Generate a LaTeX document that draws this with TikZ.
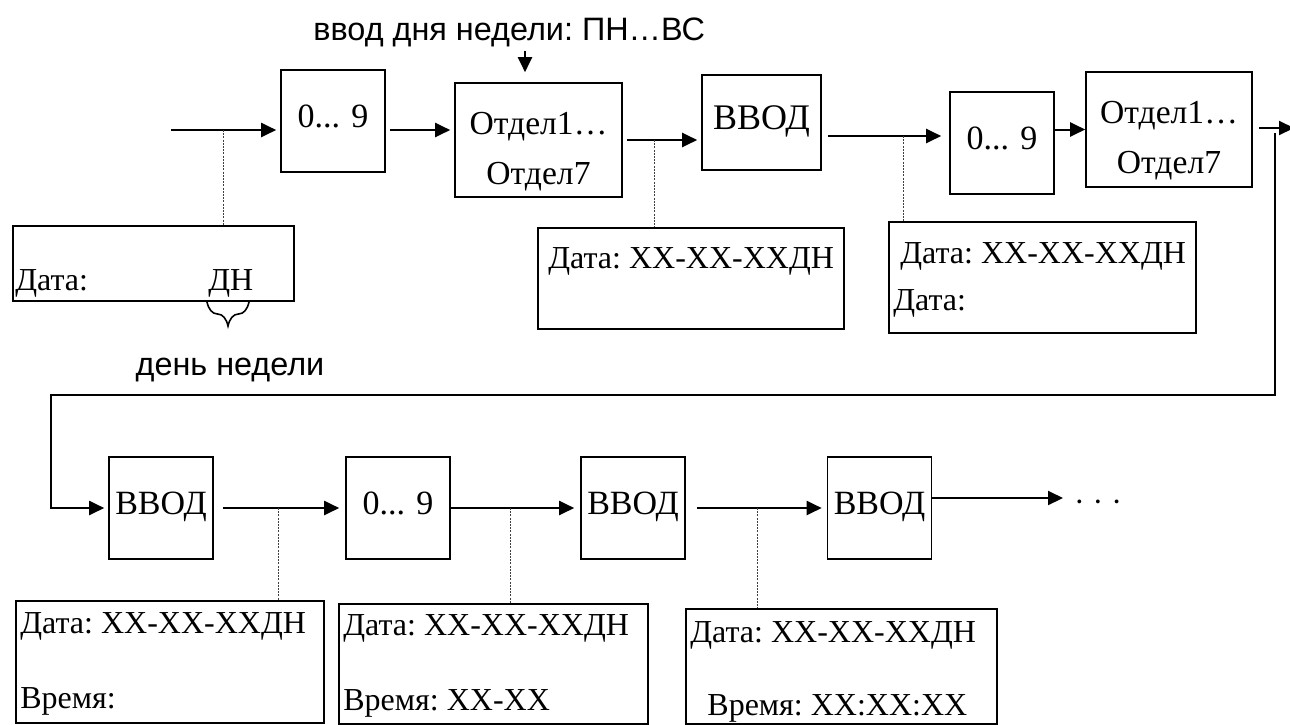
\documentclass[tikz,border=0pt]{standalone}
\usepackage{fontspec}
\setmainfont{Liberation Serif}
\setsansfont{Liberation Sans}
\usepackage{tikz}
\usetikzlibrary{arrows.meta}
\usetikzlibrary{decorations.pathreplacing}
\usetikzlibrary{positioning}

\tikzset{
  keybox/.style={draw,line width=0.8pt,inner sep=0pt,minimum width=52pt,minimum height=51pt,
    text depth=4.5pt,font=\fontsize{17}{20}\selectfont},
  otdbox/.style={draw,line width=0.8pt,inner sep=0pt,minimum width=83.5pt,minimum height=57pt},
  otdtxt/.style={inner sep=0pt,align=center,font=\fontsize{16.8}{20}\selectfont},
  lcdbox/.style={draw,line width=1.2pt,inner sep=0pt,anchor=north west},
  lcdtxt/.style={anchor=base west,inner sep=0pt,font=\fontsize{16}{19}\selectfont},
  sanstxt/.style={inner sep=0pt,font=\sffamily\fontsize{16.2}{19}\selectfont},
  arr/.style={line width=1pt,shorten <=2pt,shorten >=2pt,-{Triangle[length=7.5pt,width=7pt]}},
  tap/.style={line width=0.5pt,dash pattern=on 1pt off 0.6pt,gray!50!black}
}

\begin{document}
\sfcode`\:=1000
\begin{tikzpicture}[x=0.5pt,y=-0.5pt]

        \useasboundingbox (0,0) rectangle (1290,724);

        \coordinate (start) at (167,130);
        \coordinate (pick) at (525,0);
        \coordinate (tapl) at (223,130);
        \coordinate (tapa) at (654,140);
        \coordinate (tapb) at (903,136);
        \coordinate (outend) at (1294,128);
        \coordinate (back) at (1275,133);
        \coordinate (backl) at (51,395);

        % top row
        \node[sanstxt,anchor=base west] (title) at (313,40) {ввод дня недели: ПН…ВС};
        \node[keybox] (numa) at (333,121) {0... 9};
        \node[otdbox] (otda) at (538.5,140) {};
        \node[otdtxt] (otdatxt) at ([yshift=-5.7pt]otda.center) {Отдел1…\\[5pt]Отдел7};
        \node[keybox,minimum width=59.5pt,minimum height=47.5pt,
          font=\fontsize{18}{21}\selectfont] (vvoda) at (761.5,122.5) {ВВОД};
        \node[keybox] (numb) at (1002,143) {0... 9};
        \node[otdbox,minimum width=83pt,minimum height=57.5pt] (otdb) at (1169,129.5) {};
        \node[otdtxt] (otdbtxt) at ([yshift=-5.7pt]otdb.center) {Отдел1…\\[5pt]Отдел7};

        \node[lcdbox,minimum width=140.5pt,minimum height=37.5pt] (datl) at (12,225) {};
        \node[lcdtxt] (dlta) at (15,290) {Дата:};
        \node[lcdtxt] (dn) at (208,290) {ДН};
        \draw[decorate,decoration={brace,mirror,amplitude=12pt},line width=0.8pt]
        (207,302) -- (249,302);
        \node[sanstxt,anchor=base] (dnlab) at (230,375) {день недели};

        \node[lcdbox,minimum width=153pt,minimum height=50.5pt] (data) at (537,227) {};
        \node[lcdtxt] (dtaa) at (548,268) {Дата: XX-XX-XXДН};

        \node[lcdbox,minimum width=153.5pt,minimum height=55.5pt] (datb) at (888,221) {};
        \node[lcdtxt] (dtba) at (900,263) {Дата: XX-XX-XXДН};
        \node[lcdtxt] (dtbb) at (893,310) {Дата:};

        \draw[arr] (start) -- (numa.west |- start);
        \draw[arr] (numa.east |- start) -- (otda.west |- start);
        \draw[arr,shorten >=5pt] (pick |- title.south) -- (pick |- otda.north);
        \draw[arr] (otda.east) -- (otda.east -| vvoda.west);
        \draw[arr,shorten <=3pt,shorten >=4pt] (vvoda.east |- tapb) -- (numb.west |- tapb);
        \draw[arr,shorten <=0pt,shorten >=0pt] (numb.east |- otdb.east) -- (otdb.west);
        \draw[arr,shorten <=3pt,shorten >=0pt] (otdb.east |- outend) -- (outend);

        \draw[tap] (tapl) -- (tapl |- datl.north);
        \draw[tap] (tapa) -- (tapa |- data.north);
        \draw[tap] (tapb) -- (tapb |- datb.north);

        % bottom row
        \foreach \name/\xpos/\lbl in {vvodb/161/ВВОД, numc/398/{0... 9}, vvodc/633/ВВОД, vvodd/879.5/ВВОД}
        {
          \node[keybox] (\name) at (\xpos,508) {\lbl};
        }
        \node[inner sep=0pt,font=\fontsize{16}{19}\selectfont] (dots) at (1098,506) {· · ·};
        \coordinate (more) at (1063,498);

        % back to the second row
        \draw[arr,shorten <=0pt] (back) |- (backl) |- (vvodb.west);

        \coordinate (tapc) at (278,508);
        \coordinate (tapd) at (510,508);
        \coordinate (tape) at (757,508);

        \draw[arr,shorten <=4.5pt,shorten >=3pt] (vvodb) -- (numc);
        \draw[arr,shorten <=0pt,shorten >=3pt] (numc) -- (vvodc);
        \draw[arr,shorten <=5.5pt,shorten >=2.5pt] (vvodc) -- (vvodd);
        \draw[arr,shorten <=0pt,shorten >=0pt] (vvodd.east |- more) -- (more);

        \node[lcdbox,minimum width=154pt,minimum height=61pt] (datc) at (15,600) {};
        \node[lcdtxt] (dtca) at (20,633) {Дата: XX-XX-XXДН};
        \node[lcdtxt] (dtcb) at (20,708) {Время:};

        \node[lcdbox,minimum width=154.5pt,minimum height=60pt] (datd) at (338,603) {};
        \node[lcdtxt] (dtda) at (343,635) {Дата: XX-XX-XXДН};
        \node[lcdtxt] (dtdb) at (343,710) {Время: XX-XX};

        \node[lcdbox,minimum width=155.5pt,minimum height=57.5pt] (date) at (685,608) {};
        \node[lcdtxt] (dtea) at (690,642) {Дата: XX-XX-XXДН};
        \node[lcdtxt] (dteb) at (707,715) {Время: XX:XX:XX};

        \draw[tap] (tapc) -- (tapc |- datc.north);
        \draw[tap] (tapd) -- (tapd |- datd.north);
        \draw[tap] (tape) -- (tape |- date.north);

      \end{tikzpicture}
\end{document}
